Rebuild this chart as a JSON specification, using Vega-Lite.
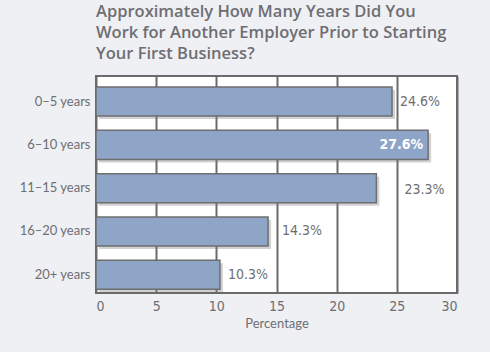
{
  "$schema": "https://vega.github.io/schema/vega-lite/v6.json",
  "width": 361,
  "height": 217,
  "autosize": "none",
  "padding": {"left": 96, "top": 76, "right": 33, "bottom": 59},
  "background": "#eff0f4",
  "title": {
    "text": ["Approximately How Many Years Did You", "Work for Another Employer Prior to Starting", "Your First Business?"],
    "anchor": "start",
    "frame": "group",
    "font": "Open Sans",
    "fontSize": 16.5,
    "fontWeight": 600,
    "color": "#6e6e72",
    "lineHeight": 21,
    "offset": 14
  },
  "config": {
    "view": {"fill": "white", "stroke": "#6b6b6b", "strokeWidth": 2},
    "axis": {"labelColor": "#6e6e72", "titleColor": "#6e6e72"}
  },
  "data": {
    "values": [
      {"years": "0–5 years", "value": 24.6, "label": "24.6%"},
      {"years": "6–10 years", "value": 27.6, "label": "27.6%"},
      {"years": "11–15 years", "value": 23.3, "label": "23.3%"},
      {"years": "16–20 years", "value": 14.3, "label": "14.3%"},
      {"years": "20+ years", "value": 10.3, "label": "10.3%"}
    ]
  },
  "encoding": {
    "y": {
      "field": "years",
      "type": "nominal",
      "sort": null,
      "scale": {"paddingInner": 0.33, "paddingOuter": 0.17, "align": 0.75},
      "axis": {
        "title": null,
        "ticks": false,
        "domain": false,
        "labelFont": "Lato",
        "labelFontSize": 13,
        "labelPadding": 6
      }
    },
    "x": {
      "field": "value",
      "type": "quantitative",
      "scale": {"domain": [0, 30], "nice": false},
      "axis": {
        "title": "Percentage",
        "values": [0, 5, 10, 15, 20, 25, 30],
        "grid": true,
        "gridColor": "#6b6b6b",
        "gridWidth": 2,
        "gridOpacity": 1,
        "ticks": false,
        "domain": false,
        "labelFont": "DejaVu Sans Condensed, DejaVu Sans",
        "labelFontSize": 14,
        "labelPadding": 6,
        "titleFont": "Lato",
        "titleFontSize": 13,
        "titleFontWeight": "normal",
        "titlePadding": 4
      }
    }
  },
  "layer": [
    {
      "mark": {"type": "bar", "color": "#7a7a7a", "opacity": 0.35, "xOffset": 3, "x2Offset": 3, "yOffset": 3, "y2Offset": 3}
    },
    {
      "mark": {"type": "bar", "color": "#8fa5c8", "stroke": "#6e6e6e", "strokeWidth": 1.5}
    },
    {
      "transform": [{"filter": "datum.value == 24.6 || datum.value == 10.3"}],
      "mark": {"type": "text", "align": "left", "dx": 8, "font": "DejaVu Sans Condensed, DejaVu Sans", "fontSize": 14, "color": "#6e6e72"},
      "encoding": {"text": {"field": "label"}}
    },
    {
      "transform": [{"filter": "datum.value == 14.3"}],
      "mark": {"type": "text", "align": "left", "dx": 14, "font": "DejaVu Sans Condensed, DejaVu Sans", "fontSize": 14, "color": "#6e6e72"},
      "encoding": {"text": {"field": "label"}}
    },
    {
      "transform": [{"filter": "datum.value == 23.3"}],
      "mark": {"type": "text", "align": "left", "dx": 28, "dy": 2, "font": "DejaVu Sans Condensed, DejaVu Sans", "fontSize": 14, "color": "#6e6e72"},
      "encoding": {"text": {"field": "label"}}
    },
    {
      "transform": [{"filter": "datum.value >= 27"}],
      "mark": {"type": "text", "align": "right", "dx": -5, "font": "DejaVu Sans Condensed, DejaVu Sans", "fontSize": 14, "fontWeight": "bold", "color": "white"},
      "encoding": {"text": {"field": "label"}}
    }
  ]
}
